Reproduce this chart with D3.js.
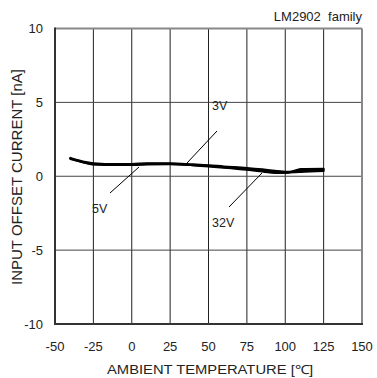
<!DOCTYPE html>
<html><head><meta charset="utf-8">
<script src="https://cdn.jsdelivr.net/npm/d3@7"></script>
<style>body{margin:0;background:#fff}svg{display:block}text{font-family:"Liberation Sans",Arial,sans-serif;fill:#222}</style>
</head><body><svg id="c" width="377" height="378"></svg>
<script>
const xTicks = [-50,-25,0,25,50,75,100,125,150];
const yTicks = [-10,-5,0,5,10];
const temps = [-40,-30,-25,-10,0,10,25,40,50,60,75,85,90,95,100,103,110,125];
const v3  = [1.24,0.96,0.88,0.82,0.82,0.88,0.88,0.80,0.74,0.66,0.56,0.46,0.40,0.35,0.30,0.30,0.48,0.50];
const v5  = [1.18,0.92,0.82,0.76,0.76,0.80,0.82,0.76,0.70,0.62,0.50,0.40,0.34,0.28,0.24,0.28,0.40,0.44];
const v32 = [1.20,0.90,0.80,0.78,0.78,0.84,0.84,0.74,0.66,0.58,0.44,0.32,0.26,0.22,0.24,0.26,0.30,0.36];
const series = [{name:"3V",v:v3},{name:"5V",v:v5},{name:"32V",v:v32}];

const svg = d3.select("#c");
const L=55,R=362,T=28.5,B=324;
const x = d3.scaleLinear().domain([-50,150]).range([L,R]);
const y = d3.scaleLinear().domain([-10,10]).range([B,T]);

// grid
svg.append("g").selectAll("line").data(xTicks.slice(1,-1)).join("line")
  .attr("x1",d=>x(d)).attr("x2",d=>x(d)).attr("y1",T).attr("y2",B)
  .attr("stroke","#222").attr("stroke-width",1);
svg.append("g").selectAll("line").data(yTicks.slice(1,-1)).join("line")
  .attr("y1",d=>y(d)).attr("y2",d=>y(d)).attr("x1",L).attr("x2",R)
  .attr("stroke","#444").attr("stroke-width",1);
// frame
svg.append("line").attr("x1",L).attr("x2",R).attr("y1",T).attr("y2",T).attr("stroke","#888").attr("stroke-width",2);
svg.append("line").attr("x1",R).attr("x2",R).attr("y1",T).attr("y2",B).attr("stroke","#888").attr("stroke-width",2);
svg.append("line").attr("x1",L).attr("x2",L).attr("y1",T-1).attr("y2",B+1).attr("stroke","#333").attr("stroke-width",2);
svg.append("line").attr("x1",L).attr("x2",R+1).attr("y1",B).attr("y2",B).attr("stroke","#333").attr("stroke-width",2);

// tick labels
svg.append("g").selectAll("text").data(xTicks).join("text")
  .attr("x",d=>x(d)).attr("y",351).attr("text-anchor","middle")
  .attr("font-size",13).text(d=>d);
svg.append("g").selectAll("text").data(yTicks).join("text")
  .attr("x",43).attr("y",d=>y(d)+4.6).attr("text-anchor","end")
  .attr("font-size",13).text(d=>d);

// titles
svg.append("text").attr("x",107).attr("y",374)
  .attr("font-size",12.5).attr("textLength",206).attr("lengthAdjust","spacingAndGlyphs")
  .text("AMBIENT TEMPERATURE [℃]");
svg.append("text").attr("transform","translate(22,285) rotate(-90)")
  .attr("font-size",14).attr("textLength",216).attr("lengthAdjust","spacingAndGlyphs")
  .text("INPUT OFFSET CURRENT [nA]");
svg.append("text").attr("x",362).attr("y",21).attr("text-anchor","end")
  .attr("font-size",13).attr("xml:space","preserve").text("LM2902  family");

// curves
const line = d3.line().x((d,i)=>x(temps[i])).y(d=>y(d)).curve(d3.curveMonotoneX);
svg.append("g").selectAll("path").data(series).join("path")
  .attr("d",s=>line(s.v)).attr("fill","none").attr("stroke","#000")
  .attr("stroke-width",2.2).attr("stroke-linecap","round");

// annotations
const ann = [
  {t:"3V", x1:187,y1:163,x2:217,y2:131, tx:212, ty:110},
  {t:"5V", x1:110,y1:193,x2:139,y2:167, tx:92, ty:213},
  {t:"32V",x1:229,y1:207,x2:262,y2:173, tx:212, ty:227}
];
svg.append("g").selectAll("line").data(ann).join("line")
  .attr("x1",d=>d.x1).attr("y1",d=>d.y1).attr("x2",d=>d.x2).attr("y2",d=>d.y2)
  .attr("stroke","#000").attr("stroke-width",1);
svg.append("g").selectAll("text").data(ann).join("text")
  .attr("x",d=>d.tx).attr("y",d=>d.ty).attr("font-size",12.5).text(d=>d.t);
</script></body></html>
